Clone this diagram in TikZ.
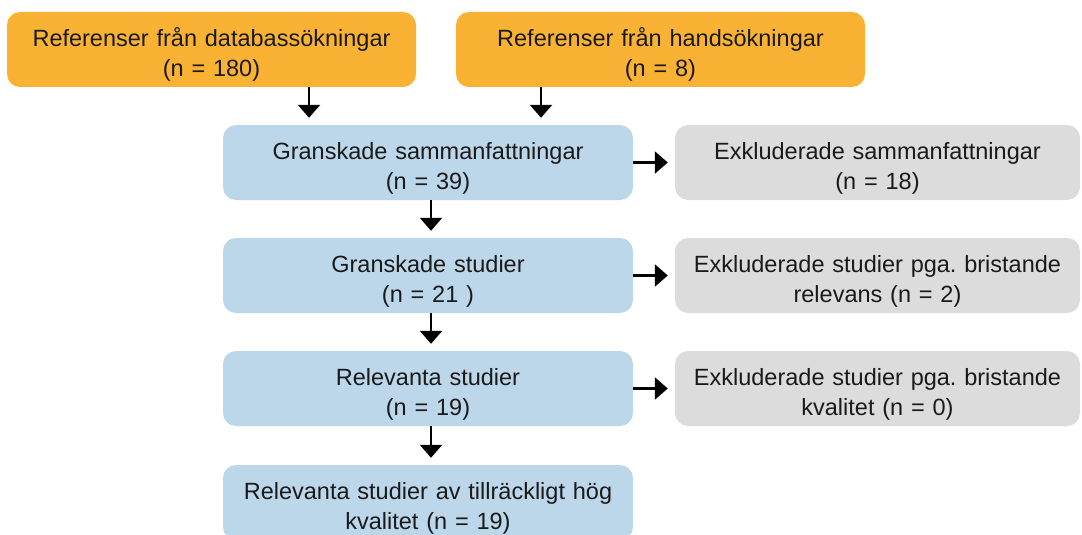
\documentclass[tikz,border=0pt]{standalone}
\usepackage{fontspec}
\setmainfont{Liberation Sans}
\usetikzlibrary{arrows.meta}
\definecolor{orangefill}{HTML}{F9B233}
\definecolor{bluefill}{HTML}{BDD7EA}
\definecolor{grayfill}{HTML}{DCDCDC}
\definecolor{txt}{HTML}{1A1A1A}
\frenchspacing
\tikzset{
  boxbase/.style={rounded corners=13pt, minimum height=75pt, inner sep=0pt, align=center, text=txt,
    font=\fontsize{23.5}{30}\selectfont, execute at begin node={\rule{0pt}{29pt}}},
  obox/.style={boxbase, fill=orangefill, minimum width=409pt, text width=400pt},
  bbox/.style={boxbase, fill=bluefill, minimum width=410pt, text width=400pt},
  gbox/.style={boxbase, fill=grayfill, minimum width=405pt, text width=395pt},
  arr/.style={line width=2.2pt, -{Triangle[width=22pt,length=13pt]}, shorten >=7pt}
}
\begin{document}
\begin{tikzpicture}[x=1pt,y=-1pt]
\useasboundingbox (0,0) rectangle (1082,535);
\clip (0,0) rectangle (1082,535);
\node[obox] (o1) at (211.5,49.5) {Referenser från databassökningar\\(n = 180)};
\node[obox] (o2) at (660.5,49.5) {Referenser från handsökningar\\(n = 8)};
\node[bbox] (b1) at (428,162.5) {Granskade sammanfattningar\\(n = 39)};
\node[gbox] (g1) at (877.5,162.5) {Exkluderade sammanfattningar\\(n = 18)};
\node[bbox] (b2) at (428,275.5) {Granskade studier\\(n = 21 )};
\node[gbox] (g2) at (877.5,275.5) {Exkluderade studier pga. bristande\\relevans (n = 2)};
\node[bbox] (b3) at (428,388.5) {Relevanta studier\\(n = 19)};
\node[gbox] (g3) at (877.5,388.5) {Exkluderade studier pga. bristande\\kvalitet (n = 0)};
\node[bbox] (b4) at (428,502.5) {Relevanta studier av tillräckligt hög\\kvalitet (n = 19)};
\coordinate (c1) at (309,0);
\coordinate (c2) at (541,0);
\coordinate (c3) at (431,0);
\draw[arr] (o1.south -| c1) -- (b1.north -| c1);
\draw[arr] (o2.south -| c2) -- (b1.north -| c2);
\draw[arr] (b1.south -| c3) -- (b2.north -| c3);
\draw[arr] (b2.south -| c3) -- (b3.north -| c3);
\draw[arr] (b3.south -| c3) -- (b4.north -| c3);
\draw[arr] (b1.east) -- (g1.west);
\draw[arr] (b2.east) -- (g2.west);
\draw[arr] (b3.east) -- (g3.west);
\end{tikzpicture}
\end{document}
